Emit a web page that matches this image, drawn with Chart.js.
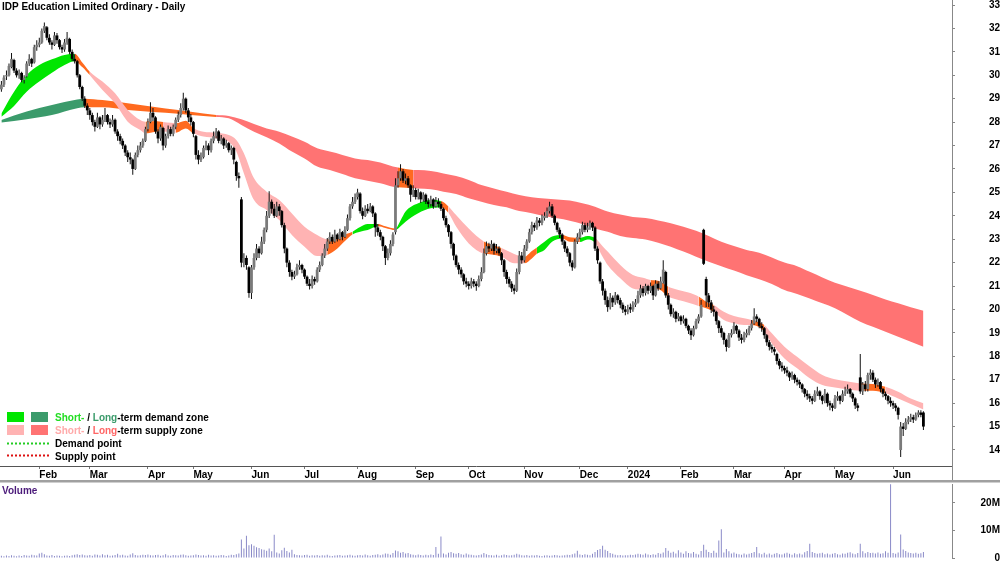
<!DOCTYPE html>
<html><head><meta charset="utf-8">
<script src="https://cdn.jsdelivr.net/npm/chart.js@4.4.1/dist/chart.umd.min.js"></script>
<style>
html,body{margin:0;padding:0;background:#fff;overflow:hidden}
#wrap{position:relative;width:1000px;height:562px;background:#fff}
#pc{position:absolute;left:0;top:0}
#vc{position:absolute;left:0;top:480px}
</style></head><body>
<div id="wrap">
<canvas id="pc" width="1000" height="481"></canvas>
<canvas id="vc" width="1000" height="82"></canvas>
</div>
<script>
// ---------------- DATA ----------------
const chartTitle = 'IDP Education Limited Ordinary - Daily';
const monthTickIdx = [15,35,58,76,99,120,141,164,185,207,229,248,269,290,310,330,353];
const monthTickLabels = ['Feb','Mar','Apr','May','Jun','Jul','Aug','Sep','Oct','Nov','Dec','2024','Feb','Mar','Apr','May','Jun'];
const priceTicks = [14,15,16,17,18,19,20,21,22,23,24,25,26,27,28,29,30,31,32,33];
const volumeTicks = [0,10,20];

const candleOpen = [
29.4,29.6,29.95,30.0,30.35,30.65,30.2,30.0,30.1,29.8,
29.95,30.5,30.7,30.55,31.2,31.3,31.4,31.9,32.05,31.6,
31.4,31.3,31.7,31.5,31.2,31.1,31.4,31.55,31.0,30.7,
30.6,30.0,29.5,29.0,28.7,28.5,28.3,28.0,27.8,28.2,
27.9,28.1,28.3,28.0,27.9,28.1,27.6,27.4,27.2,27.0,
26.7,26.5,26.4,26.0,26.6,26.8,27.0,27.2,27.7,28.0,
28.4,28.2,27.6,27.3,27.75,27.0,27.4,27.7,27.5,27.8,
28.1,28.3,28.6,29.0,28.5,28.2,28.0,27.4,26.6,26.4,
26.5,26.9,27.0,26.8,27.2,27.4,27.6,27.2,27.3,27.0,
27.1,26.8,26.9,26.3,25.7,24.7,22.0,22.2,21.8,20.7,
21.8,22.2,22.6,22.4,22.9,23.4,24.0,24.6,24.3,24.0,
24.4,24.2,23.6,22.6,22.0,21.6,21.4,21.5,21.8,21.9,
21.7,21.4,21.1,21.0,21.3,21.2,21.7,21.9,22.3,22.6,
22.9,23.1,22.9,23.2,23.0,23.3,23.1,23.4,23.9,24.4,
24.6,24.8,24.95,24.2,24.0,24.3,24.2,24.4,24.1,23.5,
23.3,23.1,22.7,22.2,22.4,22.8,23.3,25.3,25.6,25.9,
25.5,25.6,25.3,24.9,25.1,24.8,25.0,24.7,24.9,24.6,
24.5,24.7,24.4,24.6,24.5,24.3,23.9,23.6,23.3,22.8,
22.3,21.9,21.7,21.5,21.2,21.1,21.0,21.2,21.1,21.0,
21.3,21.6,22.4,22.7,22.6,22.8,22.5,22.6,22.4,22.1,
21.6,21.3,21.1,20.9,20.8,21.6,22.3,22.1,22.6,22.9,
23.3,23.6,23.5,23.8,23.7,23.9,24.0,24.2,24.4,24.0,
23.7,23.4,23.2,22.9,22.6,22.4,22.0,21.8,22.9,23.1,
23.3,23.6,23.4,23.5,23.7,23.5,22.6,22.0,21.2,20.8,
20.4,20.1,20.5,20.3,20.6,20.4,20.2,20.0,19.9,20.1,
20.0,20.2,20.3,20.6,20.9,20.7,21.0,20.8,21.0,20.6,
21.1,20.9,21.2,21.6,20.6,20.2,19.8,19.9,19.6,19.7,
19.5,19.6,19.3,19.1,18.9,19.2,19.5,19.7,23.4,21.3,
20.6,20.3,20.0,19.9,19.5,19.2,19.0,18.7,18.4,18.9,
19.0,19.3,19.1,18.8,18.7,18.9,19.0,19.2,19.4,19.7,
19.6,19.3,19.2,18.9,18.6,18.4,18.3,18.1,17.8,17.6,
17.5,17.4,17.3,17.1,17.2,17.0,16.9,16.8,16.6,16.4,
16.3,16.2,16.1,16.4,16.5,16.3,16.1,16.4,16.0,15.9,
15.8,16.2,16.3,16.1,16.4,16.5,16.6,16.4,16.2,15.9,
17.1,16.5,16.8,16.6,17.2,17.3,17.0,16.8,16.9,16.6,
16.4,16.3,16.1,16.0,15.9,15.8,14.0,15.0,14.9,15.2,
15.3,15.4,15.3,15.5,15.6,15.6];
const candleHigh = [
29.75,30.0,30.2,30.5,30.95,30.7,30.3,30.25,30.15,30.0,
30.6,30.9,30.75,31.3,31.5,31.6,32.0,32.25,32.1,31.75,
31.5,31.85,31.8,31.55,31.3,31.55,31.85,31.6,31.1,30.9,
30.65,30.05,29.55,29.1,28.8,28.6,28.4,28.1,28.4,28.25,
28.3,28.6,28.35,28.15,28.3,28.15,27.7,27.5,27.3,27.05,
26.8,26.7,26.45,26.7,27.0,27.15,27.3,27.8,28.15,28.85,
28.6,28.25,27.7,27.9,27.8,27.5,27.85,27.8,27.9,28.2,
28.45,28.8,29.25,29.05,28.6,28.35,28.05,27.45,26.8,26.7,
27.0,27.2,27.1,27.3,27.6,27.75,27.65,27.45,27.35,27.25,
27.15,27.0,26.95,26.35,25.85,24.8,22.4,22.3,21.85,21.9,
22.4,22.8,22.7,23.1,23.5,24.2,25.05,24.7,24.5,24.6,
24.5,24.25,23.7,22.65,22.1,21.7,21.65,21.95,22.1,21.95,
21.75,21.45,21.3,21.45,21.4,21.8,22.05,22.4,22.8,23.05,
23.3,23.2,23.4,23.25,23.45,23.35,23.55,24.05,24.5,24.8,
24.95,25.15,25.0,24.35,24.45,24.5,24.55,24.45,24.15,23.65,
23.4,23.15,22.75,22.6,22.95,23.3,25.6,25.9,26.2,26.0,
25.8,25.7,25.35,25.3,25.2,25.15,25.05,25.0,24.95,24.75,
24.85,24.75,24.8,24.75,24.6,24.35,24.0,23.65,23.35,22.85,
22.35,22.0,21.8,21.55,21.35,21.2,21.35,21.3,21.2,21.45,
21.8,22.6,22.9,22.85,22.95,22.85,22.8,22.7,22.45,22.15,
21.7,21.4,21.2,21.05,21.75,22.5,22.45,22.75,23.0,23.45,
23.75,23.7,23.95,23.9,24.05,24.15,24.35,24.6,24.5,24.05,
23.75,23.5,23.25,22.95,22.7,22.45,22.1,23.0,23.25,23.45,
23.75,23.7,23.7,23.8,23.75,23.55,22.7,22.05,21.3,20.9,
20.55,20.7,20.6,20.75,20.65,20.5,20.3,20.15,20.2,20.25,
20.35,20.45,20.8,21.05,21.0,21.1,21.05,21.15,21.05,21.25,
21.2,21.4,22.1,21.65,20.7,20.25,20.05,19.95,19.85,19.75,
19.75,19.65,19.35,19.2,19.3,19.6,19.8,20.4,23.45,21.4,
20.7,20.4,20.15,19.95,19.55,19.3,19.05,18.75,19.0,19.15,
19.45,19.35,19.15,18.95,19.05,19.15,19.3,19.55,20.05,19.8,
19.65,19.45,19.25,18.95,18.7,18.5,18.4,18.15,17.9,17.75,
17.6,17.55,17.35,17.35,17.25,17.1,17.0,16.85,16.65,16.55,
16.4,16.3,16.55,16.7,16.55,16.35,16.6,16.45,16.1,16.0,
16.35,16.5,16.35,16.55,16.7,16.8,16.65,16.45,16.25,16.0,
18.1,16.9,16.95,17.3,17.45,17.4,17.1,17.05,16.95,16.65,
16.5,16.35,16.25,16.1,16.0,15.85,15.2,15.15,15.35,15.45,
15.55,15.5,15.6,15.7,15.7,15.65];
const candleLow = [
29.3,29.5,29.8,29.95,30.3,30.1,29.9,29.85,29.7,29.65,
29.9,30.4,30.35,30.5,31.05,31.2,31.35,31.8,31.5,31.3,
31.1,31.25,31.35,31.1,30.95,31.0,31.3,30.9,30.6,30.5,
29.9,29.4,28.9,28.6,28.3,28.1,27.85,27.6,27.75,27.7,
27.8,28.0,27.9,27.75,27.8,27.5,27.2,27.05,26.85,26.55,
26.3,26.2,25.75,25.95,26.5,26.7,26.9,27.15,27.6,27.95,
28.05,27.5,27.1,27.2,26.8,26.9,27.3,27.4,27.4,27.7,
28.0,28.2,28.5,28.4,28.0,27.85,27.35,26.4,26.2,26.3,
26.45,26.8,26.6,26.7,27.1,27.3,27.1,27.05,26.85,26.9,
26.7,26.6,26.2,25.5,25.2,21.8,21.8,21.7,20.5,20.45,
21.7,22.1,22.2,22.35,22.8,23.3,23.9,24.1,23.9,23.95,
24.0,23.5,22.4,21.8,21.4,21.25,21.3,21.45,21.7,21.55,
21.3,21.0,20.85,20.9,21.05,21.15,21.6,21.85,22.2,22.5,
22.8,22.8,22.85,22.9,22.95,22.95,23.05,23.35,23.8,24.3,
24.5,24.7,24.1,23.85,23.95,24.1,24.15,23.95,23.1,23.15,
22.95,22.5,21.9,22.1,22.3,22.7,23.2,25.2,25.5,25.4,
25.35,25.2,24.6,24.8,24.7,24.7,24.55,24.6,24.5,24.35,
24.4,24.3,24.35,24.35,24.2,23.8,23.5,23.1,22.6,22.1,
21.8,21.5,21.35,21.05,20.95,20.85,20.9,20.95,20.8,20.95,
21.2,21.55,22.3,22.45,22.5,22.35,22.4,22.3,21.9,21.4,
21.1,20.95,20.75,20.65,20.75,21.5,21.95,22.0,22.5,22.85,
23.2,23.35,23.4,23.55,23.6,23.8,23.9,24.1,23.9,23.6,
23.3,23.05,22.75,22.45,22.25,21.85,21.65,21.75,22.8,23.0,
23.2,23.3,23.3,23.4,23.35,22.5,21.95,21.1,20.6,20.2,
19.9,20.0,20.1,20.2,20.25,20.05,19.85,19.75,19.8,19.85,
19.9,20.1,20.25,20.5,20.55,20.6,20.65,20.7,20.4,20.55,
20.8,20.85,21.1,20.5,20.0,19.7,19.65,19.45,19.5,19.35,
19.4,19.2,18.95,18.7,18.85,19.15,19.4,19.65,21.9,20.1,
20.1,19.85,19.7,19.35,19.0,18.8,18.5,18.2,18.35,18.8,
18.95,18.95,18.65,18.55,18.6,18.8,18.9,19.1,19.35,19.45,
19.2,19.05,18.75,18.45,18.25,18.15,18.05,17.65,17.45,17.35,
17.25,17.15,16.95,17.0,16.85,16.75,16.65,16.45,16.25,16.15,
16.05,15.95,16.05,16.3,16.15,15.95,16.0,15.85,15.7,15.65,
15.75,16.1,15.95,16.05,16.3,16.4,16.25,16.05,15.75,15.65,
16.4,16.35,16.5,16.5,17.0,16.9,16.65,16.7,16.45,16.25,
16.15,15.95,15.85,15.75,15.65,15.3,13.7,14.6,14.85,15.1,
15.2,15.15,15.25,15.4,15.4,14.85];
const candleClose = [
29.6,29.9,30.0,30.4,30.7,30.2,30.0,30.1,29.8,29.9,
30.5,30.7,30.5,31.2,31.3,31.4,31.9,32.1,31.6,31.4,
31.3,31.7,31.5,31.2,31.1,31.4,31.6,31.0,30.7,30.6,
30.0,29.5,29.0,28.7,28.5,28.3,28.0,27.8,28.2,27.9,
28.1,28.3,28.0,27.9,28.1,27.6,27.4,27.2,27.0,26.7,
26.5,26.4,26.0,26.6,26.8,27.0,27.2,27.7,28.0,28.4,
28.2,27.6,27.3,27.8,27.0,27.4,27.7,27.5,27.8,28.1,
28.3,28.6,29.0,28.5,28.2,28.0,27.5,26.6,26.4,26.5,
26.9,27.0,26.8,27.2,27.4,27.6,27.2,27.3,27.0,27.1,
26.8,26.9,26.4,25.7,25.6,22.0,22.2,21.9,20.7,21.8,
22.2,22.6,22.4,22.9,23.4,24.0,24.6,24.3,24.0,24.4,
24.2,23.6,22.6,22.0,21.6,21.4,21.5,21.8,21.9,21.7,
21.4,21.1,21.0,21.3,21.2,21.7,21.9,22.3,22.6,22.9,
23.1,22.9,23.2,23.0,23.3,23.1,23.4,23.9,24.4,24.6,
24.8,25.0,24.2,24.0,24.3,24.2,24.4,24.1,23.5,23.3,
23.1,22.7,22.2,22.4,22.8,23.2,25.3,25.6,25.9,25.5,
25.6,25.3,24.9,25.1,24.8,25.0,24.7,24.9,24.6,24.5,
24.7,24.4,24.6,24.5,24.3,23.9,23.6,23.3,22.8,22.3,
21.9,21.7,21.5,21.2,21.1,21.0,21.2,21.1,21.0,21.3,
21.6,22.4,22.7,22.6,22.8,22.5,22.6,22.4,22.1,21.6,
21.3,21.1,20.9,20.8,21.6,22.3,22.1,22.6,22.9,23.3,
23.6,23.5,23.8,23.7,23.9,24.0,24.2,24.4,24.0,23.7,
23.4,23.2,22.9,22.6,22.4,22.0,21.8,22.9,23.1,23.3,
23.6,23.4,23.5,23.7,23.5,22.6,22.1,21.2,20.8,20.4,
20.1,20.5,20.3,20.6,20.4,20.2,20.0,19.9,20.0,20.0,
20.2,20.3,20.6,20.9,20.7,21.0,20.8,21.0,20.6,21.1,
20.9,21.2,21.7,20.6,20.2,19.8,19.9,19.6,19.7,19.5,
19.6,19.3,19.1,18.9,19.2,19.5,19.7,20.2,21.95,20.6,
20.3,20.0,19.9,19.5,19.2,19.0,18.7,18.4,18.9,19.0,
19.3,19.1,18.8,18.7,18.9,19.0,19.2,19.4,19.7,19.6,
19.3,19.2,18.9,18.6,18.4,18.3,18.2,17.8,17.6,17.5,
17.4,17.3,17.1,17.2,17.0,16.9,16.8,16.6,16.4,16.3,
16.2,16.1,16.4,16.5,16.3,16.1,16.4,16.0,15.9,15.8,
16.2,16.3,16.1,16.4,16.5,16.6,16.4,16.2,15.9,15.8,
16.5,16.8,16.6,17.2,17.3,17.0,16.8,16.9,16.6,16.4,
16.3,16.1,16.0,15.9,15.8,15.5,15.0,14.9,15.2,15.3,
15.4,15.3,15.5,15.6,15.5,15.0];
// volume in millions of shares
const volumeM = [
0.8,0.6,0.9,0.7,1.0,0.8,0.6,0.9,0.7,1.1,
0.9,0.8,1.2,1.0,0.9,1.6,1.9,1.4,0.9,0.8,
1.1,0.7,0.9,0.8,0.6,0.8,0.9,0.7,1.0,1.2,
1.4,1.1,1.3,1.0,0.9,1.1,0.8,1.3,1.2,0.9,
1.4,1.0,1.2,0.8,0.9,1.1,1.5,1.0,1.2,0.9,
0.8,1.3,1.7,1.1,0.9,1.0,1.2,1.1,1.3,1.0,
0.9,1.1,1.2,0.8,1.0,1.4,0.9,0.8,1.1,1.0,
0.9,1.2,1.3,1.0,0.8,0.9,1.0,1.3,1.1,0.9,
1.0,0.8,1.2,0.9,1.0,0.8,0.9,1.1,1.0,0.7,
0.9,1.2,1.1,1.4,1.6,6.7,3.4,8.1,4.6,5.0,
4.4,3.9,3.6,3.2,3.0,2.6,3.4,2.4,8.4,2.0,
1.6,2.8,3.7,2.5,2.0,3.0,1.4,1.1,1.0,0.9,
1.1,1.2,0.8,1.0,0.9,1.1,0.8,1.0,0.9,1.2,
0.8,0.7,0.9,1.0,1.1,0.8,0.9,1.0,1.2,0.9,
0.8,1.0,1.1,0.9,1.3,1.0,0.8,1.1,1.2,1.4,
1.0,1.3,1.6,1.5,1.2,1.8,2.7,2.4,1.9,2.2,
1.6,1.8,1.4,1.2,1.0,1.3,1.1,0.9,1.2,1.0,
1.3,1.1,4.0,1.5,7.8,1.6,1.3,1.9,2.2,1.7,
1.5,1.8,1.4,1.2,1.6,1.3,1.2,1.0,0.9,1.1,
1.3,1.8,1.4,1.1,1.0,0.9,1.2,0.8,1.0,1.3,
1.1,0.9,1.0,1.2,1.5,1.3,1.0,0.9,1.1,0.8,
1.0,0.9,1.1,0.8,0.7,0.9,1.0,0.8,0.9,1.1,
1.0,0.8,0.9,1.0,1.2,1.1,1.4,1.6,2.6,1.3,
1.1,1.4,1.2,1.0,1.5,2.2,2.9,3.3,4.4,3.0,
2.5,1.8,1.5,1.2,1.0,1.1,0.9,1.0,1.0,1.2,
1.1,1.3,1.5,1.4,1.2,1.6,1.3,1.1,1.4,1.2,
1.8,1.5,2.0,3.6,2.6,1.9,2.3,1.6,2.8,2.0,
1.5,2.4,1.8,1.6,2.2,1.5,1.3,2.5,4.8,3.0,
2.2,1.8,2.6,1.9,6.3,10.4,2.0,3.3,2.4,1.6,
2.0,1.5,1.4,1.2,1.6,1.3,1.5,1.8,2.2,4.0,
1.7,1.4,1.9,1.3,1.6,1.2,1.5,1.8,1.4,1.3,
1.6,1.9,1.5,1.2,1.7,1.4,1.6,1.3,2.1,2.5,
5.2,2.2,1.8,1.5,1.7,1.9,1.4,1.6,1.3,1.5,
1.8,1.4,1.2,1.6,1.5,1.9,2.1,1.6,1.4,1.8,
5.2,2.4,1.7,2.2,1.8,1.9,1.6,2.0,1.5,1.7,
2.4,1.9,26.7,1.8,1.5,2.0,8.5,3.1,2.5,2.0,
1.8,1.6,1.9,1.5,1.7,2.2];

// demand / supply bands (at sample days)
const shortBandIdx = [0,5,10,15,20,25,29,32,35,40,45,50,55,57,61,64,67,69,73,76,80,85,90,93,96,100,105,110,115,120,125,129,133,136,139,142,145,149,152,156,158,160,165,170,174,177,180,185,191,194,198,203,207,210,212,215,218,222,225,229,232,235,238,240,245,250,254,257,260,264,268,272,276,279,282,286,290,294,297,300,302,305,310,315,320,325,330,335,340,345,350,355,360,365];
const shortBandUpper = [28.37,29.30,30.01,30.44,30.68,30.87,30.92,30.55,30.15,29.73,29.23,28.52,28.09,28.02,28.05,28.00,27.97,27.95,28.06,27.75,27.59,27.55,27.45,27.24,26.67,25.60,25.03,24.67,24.10,23.53,23.18,23.00,23.05,23.20,23.32,23.52,23.65,23.65,23.55,23.46,23.80,24.18,24.53,24.67,24.63,24.40,24.03,23.46,22.90,22.76,22.62,22.37,22.25,22.50,22.65,22.89,23.11,23.18,23.08,23.06,23.14,23.05,22.70,22.47,21.90,21.47,21.35,21.26,21.23,20.97,20.83,20.72,20.55,20.33,20.19,19.90,19.72,19.62,19.55,19.44,19.34,18.98,18.41,17.98,17.56,17.20,17.02,16.92,16.84,16.82,16.70,16.49,16.20,15.99];
const shortBandLower = [28.23,28.69,29.30,29.73,30.11,30.44,30.60,30.35,30.00,29.37,28.80,28.02,27.66,27.52,27.59,27.60,27.57,27.55,27.73,27.52,27.38,27.31,27.16,26.74,25.81,24.67,24.25,23.82,23.18,22.68,22.28,22.33,22.60,22.92,23.20,23.32,23.39,23.55,23.48,23.39,23.55,23.75,24.11,24.32,24.35,24.12,23.54,22.82,22.38,22.35,22.25,21.97,21.97,22.18,22.38,22.54,22.89,23.03,22.89,22.88,22.99,22.85,22.25,21.90,21.33,20.90,20.85,20.83,20.86,20.55,20.40,20.29,20.15,20.05,19.90,19.55,19.41,19.34,19.34,19.24,19.05,18.55,17.91,17.49,17.06,16.77,16.67,16.59,16.53,16.53,16.42,16.20,15.96,15.73];
const shortZoneStart = [0,29,35,57,64,69,76,129,139,149,156,174,177,191,198,207,212,222,229,235,257,264,276,282,297,302,340,350];
const shortZoneKind  = ['G','O','P','O','P','O','P','O','G','O','G','O','P','O','P','O','G','O','G','P','O','P','O','P','O','P','O','P'];

const longBandIdx = [0,10,20,30,33,40,50,60,70,80,85,90,95,100,105,110,115,120,125,130,135,140,145,150,155,157,160,163,165,170,175,180,185,190,195,200,205,210,215,220,225,230,235,240,245,250,255,260,265,270,275,280,285,290,295,300,305,310,315,320,325,330,335,340,345,350,355,360,365];
const longBandUpper = [28.09,28.45,28.73,28.97,29.00,28.94,28.80,28.66,28.52,28.37,28.30,28.26,28.12,27.92,27.73,27.59,27.38,27.16,26.88,26.74,26.60,26.45,26.38,26.27,26.10,26.06,26.00,25.96,25.95,25.91,25.81,25.70,25.53,25.31,25.17,25.03,24.89,24.79,24.74,24.70,24.65,24.53,24.39,24.18,24.05,23.95,23.90,23.80,23.68,23.53,23.36,23.14,22.89,22.71,22.54,22.42,22.22,22.00,21.85,21.61,21.37,21.14,20.97,20.80,20.62,20.43,20.26,20.09,19.95];
const longBandLower = [27.98,28.12,28.30,28.59,28.63,28.63,28.52,28.43,28.36,28.26,28.22,28.16,27.88,27.59,27.35,27.09,26.74,26.45,26.10,25.95,25.78,25.60,25.50,25.39,25.24,25.22,25.20,25.18,25.17,25.13,25.03,24.93,24.75,24.60,24.46,24.36,24.20,24.11,23.99,23.89,23.79,23.65,23.46,23.32,23.14,23.05,22.99,22.85,22.68,22.47,22.25,22.04,21.85,21.66,21.46,21.29,21.09,20.83,20.66,20.47,20.26,20.05,19.76,19.48,19.26,19.05,18.84,18.62,18.41];
const longZoneStart = [0,33,85,157,163];
const longZoneKind  = ['G','O','R','O','R'];

// ---------------- STYLE / LAYOUT ----------------
const FONT = '"Liberation Sans", Arial, Helvetica, sans-serif';
const X_MIN = -0.558, X_MAX = 376.32;
const Y_MIN = 13.316, Y_MAX = 33.2135;
const COL = {Gs:'#00e600', Gl:'#3b9b6b', P:'#ffb3b3', R:'#ff7373', O:'#ff6a1f'};

function zoneColor(starts, kinds, x, isShort) {
  let k = kinds[0];
  for (let j = 0; j < starts.length; j++) if (x >= starts[j]) k = kinds[j];
  if (k === 'G') return isShort ? COL.Gs : COL.Gl;
  if (k === 'P') return COL.P;
  if (k === 'R') return COL.R;
  return COL.O;
}
function segColor(idxArr, starts, kinds, isShort) {
  return ctx => zoneColor(starts, kinds, (idxArr[ctx.p0DataIndex] + idxArr[ctx.p1DataIndex]) / 2, isShort);
}
const pts = (idx, vals) => idx.map((x, j) => ({x: x, y: vals[j]}));
const isUp = i => candleClose[i] >= candleOpen[i];
const dayIdx = candleClose.map((_, i) => i);

const bandLine = {type:'line', pointRadius:0, borderWidth:0, borderColor:'rgba(0,0,0,0)', cubicInterpolationMode:'monotone'};

const pricePlugin = {
  id: 'priceDecor',
  afterDraw(chart) {
    const ctx = chart.ctx;
    ctx.save();
    ctx.font = 'bold 10px ' + FONT;
    ctx.textBaseline = 'alphabetic';
    ctx.textAlign = 'left';
    ctx.fillStyle = '#000';
    ctx.fillText(chartTitle, 2, 10);
    // legend
    const rich = (x, y, parts) => { for (const [t, c] of parts) { ctx.fillStyle = c; ctx.fillText(t, x, y); x += ctx.measureText(t).width; } };
    ctx.fillStyle = COL.Gs; ctx.fillRect(7, 412, 17, 10);
    ctx.fillStyle = COL.Gl; ctx.fillRect(31, 412, 17, 10);
    rich(55, 421, [['Short-', '#22dd22'], [' / ', '#000'], ['Long', COL.Gl], ['-term demand zone', '#000']]);
    ctx.fillStyle = COL.P; ctx.fillRect(7, 425, 17, 10);
    ctx.fillStyle = COL.R; ctx.fillRect(31, 425, 17, 10);
    rich(55, 434, [['Short-', '#ffaaaa'], [' / ', '#000'], ['Long', '#ff6666'], ['-term supply zone', '#000']]);
    ctx.fillStyle = '#22cc22';
    for (let x = 7; x < 48; x += 4) ctx.fillRect(x, 442.5, 2, 2);
    ctx.fillStyle = '#000'; ctx.fillText('Demand point', 55, 447);
    ctx.fillStyle = '#dd1111';
    for (let x = 7; x < 48; x += 4) ctx.fillRect(x, 454.5, 2, 2);
    ctx.fillStyle = '#000'; ctx.fillText('Supply point', 55, 459.5);
    // axis line continues through the date strip
    ctx.fillStyle = '#888';
    ctx.fillRect(952, 466, 1, 15);
    ctx.restore();
  }
};

new Chart(document.getElementById('pc'), {
  type: 'bar',
  data: {datasets: [
    {type:'bar', data: dayIdx.map(i => ({x:i, y:[candleOpen[i], candleClose[i]]})), order:0, grouped:false,
     barThickness:2.8, inflateAmount:0, borderWidth:0,
     backgroundColor: c => isUp(c.dataIndex) ? '#7a7a7a' : '#000'},
    {type:'bar', data: dayIdx.map(i => ({x:i, y:[candleLow[i], candleHigh[i]]})), order:1, grouped:false,
     barThickness:1, inflateAmount:0, borderWidth:0, backgroundColor:'#111'},
    Object.assign({}, bandLine, {data: pts(shortBandIdx, shortBandLower), order:2, fill:false}),
    Object.assign({}, bandLine, {data: pts(shortBandIdx, shortBandUpper), order:3, fill:'-1', backgroundColor:COL.P,
      segment:{backgroundColor: segColor(shortBandIdx, shortZoneStart, shortZoneKind, true)}}),
    Object.assign({}, bandLine, {data: pts(longBandIdx, longBandLower), order:4, fill:false}),
    Object.assign({}, bandLine, {data: pts(longBandIdx, longBandUpper), order:5, fill:'-1', backgroundColor:COL.R,
      segment:{backgroundColor: segColor(longBandIdx, longZoneStart, longZoneKind, false)}})
  ]},
  options: {
    responsive:false, animation:false, events:[],
    layout:{padding:0},
    plugins:{legend:{display:false}, tooltip:{enabled:false}},
    scales:{
      x:{type:'linear', min:X_MIN, max:X_MAX, position:'bottom', offset:false,
         afterBuildTicks: s => { s.ticks = monthTickIdx.map(v => ({value:v})); },
         afterFit: s => { s.height = 15; s.paddingLeft = 0; s.paddingRight = 0; },
         ticks:{autoSkip:false, maxRotation:0, minRotation:0, align:'start', padding:0, color:'#000',
                font:{family:FONT, size:10, weight:'bold'}, callback:(v, i) => monthTickLabels[i]},
         grid:{drawOnChartArea:false, drawTicks:true, tickLength:3, color:'#777', offset:false},
         border:{display:true, color:'#555', width:1}},
      y:{type:'linear', position:'right', min:Y_MIN, max:Y_MAX,
         afterBuildTicks: s => { s.ticks = priceTicks.map(v => ({value:v})); },
         afterFit: s => { s.width = 48; s.paddingTop = 0; s.paddingBottom = 0; },
         ticks:{autoSkip:false, crossAlign:'far', padding:32, color:'#000',
                font:{family:FONT, size:10, weight:'bold'}, callback: v => String(v)},
         grid:{drawOnChartArea:false, drawTicks:true, tickLength:3, color:'#888'},
         border:{display:true, color:'#888', width:1}}
    }
  },
  plugins:[pricePlugin]
});

const volPlugin = {
  id: 'volDecor',
  beforeDraw(chart) {
    const ctx = chart.ctx;
    ctx.save();
    ctx.fillStyle = '#a0a0a0';
    ctx.fillRect(0, 0, 1000, 2.5);
    ctx.restore();
  },
  afterDraw(chart) {
    const ctx = chart.ctx;
    ctx.save();
    ctx.font = 'bold 10px ' + FONT;
    ctx.fillStyle = '#4b1a7a';
    ctx.textAlign = 'left';
    ctx.textBaseline = 'alphabetic';
    ctx.fillText('Volume', 2, 13.5);
    ctx.restore();
  }
};

new Chart(document.getElementById('vc'), {
  type:'bar',
  data:{datasets:[{data: dayIdx.map(i => ({x:i, y:volumeM[i]})), grouped:false, barThickness:1,
                   inflateAmount:0, borderWidth:0, backgroundColor:'#8a8ac8'}]},
  options:{
    responsive:false, animation:false, events:[],
    layout:{padding:{top:4, bottom:4, left:0, right:0}},
    plugins:{legend:{display:false}, tooltip:{enabled:false}},
    scales:{
      x:{type:'linear', min:X_MIN, max:X_MAX, display:false, offset:false, grid:{offset:false}},
      y:{type:'linear', position:'right', min:0, max:26.8,
         afterBuildTicks: s => { s.ticks = volumeTicks.map(v => ({value:v})); },
         afterFit: s => { s.width = 48; s.paddingTop = 0; s.paddingBottom = 0; },
         ticks:{autoSkip:false, crossAlign:'far', padding:23.5, color:'#000',
                font:{family:FONT, size:10, weight:'bold'}, callback: v => v === 0 ? '0' : v + 'M'},
         grid:{drawOnChartArea:false, drawTicks:true, tickLength:3, color:'#888'},
         border:{display:true, color:'#888', width:1}}
    }
  },
  plugins:[volPlugin]
});
</script>
</body></html>
